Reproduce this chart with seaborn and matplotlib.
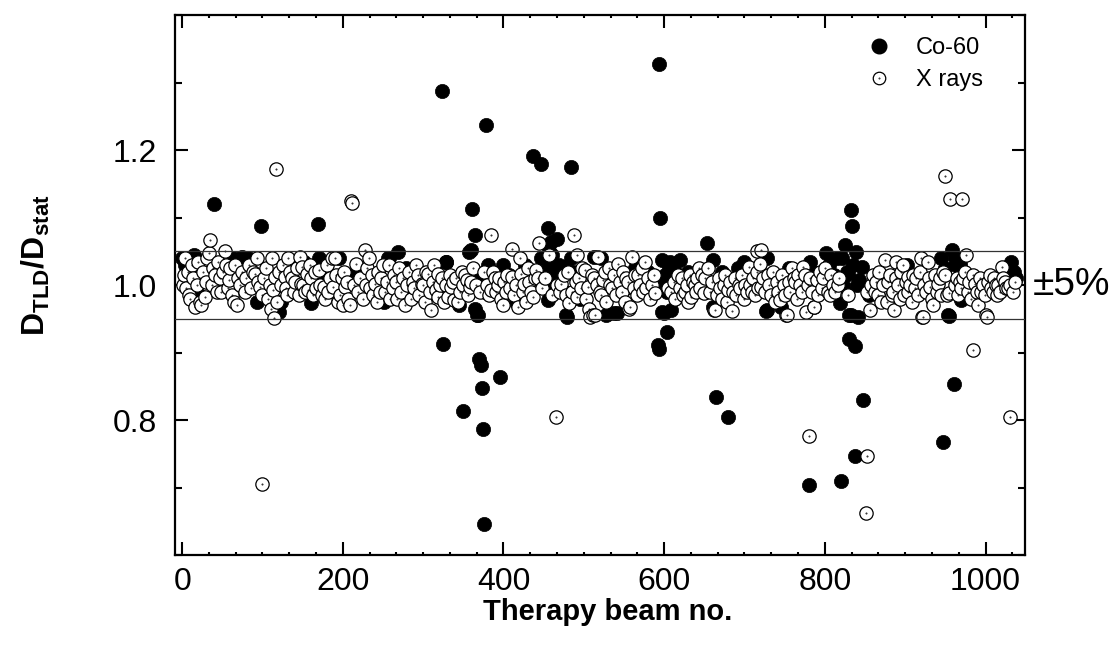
import numpy as np
import matplotlib
matplotlib.use("Agg")
import matplotlib.pyplot as plt
import seaborn as sns
from matplotlib.path import Path
from matplotlib.lines import Line2D
from matplotlib.ticker import MultipleLocator, AutoMinorLocator

# X rays : beam no. / D_TLD/D_stat
xray_beam = [
    1, 2, 3, 5, 7, 9, 10, 12, 14, 16,
    18, 20, 22, 24, 26, 28, 30, 31, 33, 35,
    37, 39, 41, 43, 45, 47, 49, 51, 53, 55,
    57, 58, 60, 62, 64, 66, 68, 70, 72, 75,
    78, 80, 83, 86, 88, 91, 93, 95, 97, 99,
    100, 102, 105, 107, 109, 110, 112, 113, 114, 116,
    117, 118, 120, 123, 126, 128, 129, 131, 132, 134,
    137, 139, 141, 143, 145, 147, 148, 149, 151, 153,
    155, 157, 159, 161, 163, 165, 167, 170, 172, 174,
    176, 178, 180, 182, 184, 186, 188, 190, 192, 194,
    197, 199, 200, 202, 203, 205, 207, 209, 210, 212,
    214, 217, 219, 222, 225, 228, 229, 230, 232, 234,
    236, 238, 240, 242, 244, 246, 248, 250, 253, 255,
    257, 259, 262, 264, 266, 267, 270, 273, 275, 277,
    280, 282, 285, 287, 289, 291, 293, 295, 298, 300,
    302, 304, 306, 308, 310, 312, 314, 316, 318, 319,
    321, 324, 326, 329, 331, 333, 335, 337, 339, 341,
    343, 346, 348, 350, 352, 354, 356, 358, 360, 362,
    366, 371, 376, 380, 382, 384, 385, 387, 389, 391,
    393, 395, 397, 399, 401, 403, 405, 408, 410, 411,
    413, 415, 418, 420, 422, 424, 426, 428, 430, 432,
    434, 437, 439, 441, 443, 444, 448, 452, 457, 461,
    465, 466, 470, 472, 475, 478, 480, 482, 485, 488,
    490, 491, 492, 494, 496, 498, 501, 503, 505, 507,
    508, 510, 511, 513, 514, 516, 518, 520, 522, 524,
    526, 528, 531, 533, 535, 537, 540, 543, 545, 547,
    549, 551, 553, 555, 556, 558, 560, 562, 564, 566,
    568, 570, 572, 574, 576, 578, 580, 582, 585, 587,
    589, 605, 609, 612, 614, 617, 620, 622, 624, 626,
    628, 630, 632, 634, 636, 638, 640, 641, 643, 645,
    647, 649, 651, 655, 657, 660, 662, 663, 666, 668,
    670, 672, 674, 676, 678, 680, 682, 684, 686, 688,
    690, 693, 695, 697, 699, 701, 703, 705, 707, 709,
    711, 713, 715, 716, 717, 719, 720, 721, 723, 725,
    729, 731, 733, 735, 738, 740, 742, 744, 747, 749,
    751, 752, 753, 755, 757, 759, 761, 763, 765, 767,
    769, 771, 773, 775, 777, 779, 780, 782, 784, 786,
    787, 790, 792, 794, 796, 798, 800, 804, 806, 808,
    810, 813, 816, 818, 827, 829, 851, 852, 853, 856,
    858, 860, 862, 864, 866, 868, 870, 872, 875, 877,
    879, 881, 883, 885, 886, 888, 889, 891, 893, 895,
    897, 899, 901, 903, 904, 906, 908, 910, 912, 914,
    916, 918, 920, 921, 922, 924, 926, 928, 930, 931,
    933, 935, 937, 939, 941, 943, 945, 947, 949, 950,
    952, 955, 956, 962, 964, 966, 968, 970, 971, 972,
    974, 976, 978, 980, 982, 984, 985, 987, 989, 991,
    993, 995, 997, 999, 1001, 1002, 1003, 1005, 1007, 1009,
    1011, 1013, 1014, 1016, 1018, 1020, 1022, 1024, 1026, 1028,
    1030, 1031, 1034, 1037,
]
xray_ratio = [
    1.00, 1.015, 1.04, 0.995, 1.02, 0.985, 0.98, 1.03, 1.01, 0.968,
    1.00, 1.035, 0.975, 0.97, 1.02, 0.983, 1.005, 1.04, 1.047, 1.067,
    1.00, 1.025, 1.015, 0.99, 1.035, 1.01, 0.99, 1.02, 1.05, 1.03,
    0.995, 1.007, 1.025, 0.985, 0.975, 1.03, 0.97, 1.01, 1.00, 1.02,
    0.99, 1.01, 1.03, 0.995, 1.02, 1.017, 1.04, 1.005, 0.997, 0.985,
    0.705, 1.01, 1.025, 0.98, 1.00, 0.965, 1.04, 0.993, 0.952, 1.012,
    1.172, 0.975, 1.02, 1.00, 1.03, 1.012, 0.995, 0.985, 1.04, 1.02,
    1.01, 0.99, 1.005, 1.025, 0.985, 1.042, 1.002, 1.027, 1.00, 0.99,
    1.017, 0.993, 1.03, 1.01, 0.985, 1.02, 0.995, 1.022, 1.00, 0.985,
    0.997, 0.98, 1.03, 0.99, 1.01, 1.04, 0.997, 1.04, 1.015, 0.975,
    0.985, 1.01, 0.97, 1.02, 0.997, 1.005, 0.98, 0.97, 1.125, 1.122,
    1.00, 1.032, 0.99, 1.01, 0.98, 1.052, 1.00, 1.025, 1.04, 0.995,
    1.015, 0.985, 1.002, 0.975, 1.02, 0.99, 1.01, 1.03, 0.99, 1.005,
    1.03, 0.98, 0.995, 1.015, 1.005, 0.98, 1.025, 0.99, 1.01, 0.97,
    1.00, 1.02, 0.98, 1.005, 0.995, 1.03, 1.015, 0.985, 1.002, 1.00,
    0.975, 1.02, 1.017, 0.99, 0.963, 1.005, 1.03, 0.993, 1.017, 0.983,
    1.00, 1.01, 0.975, 1.00, 0.983, 1.015, 0.997, 1.005, 0.978, 1.01,
    0.975, 0.99, 1.02, 1.00, 1.015, 1.007, 0.985, 0.997, 1.005, 1.025,
    1.00, 0.99, 1.02, 1.00, 0.985, 1.074, 0.993, 1.02, 1.01, 0.99,
    1.00, 1.01, 0.98, 0.97, 1.005, 0.99, 1.015, 0.995, 1.012, 1.053,
    0.985, 1.00, 0.968, 1.04, 1.017, 0.99, 1.002, 0.975, 1.025, 1.005,
    0.99, 0.983, 1.01, 1.022, 1.01, 1.062, 0.995, 1.01, 1.044, 0.985,
    0.804, 1.00, 0.99, 1.002, 1.015, 0.985, 1.02, 0.973, 0.99, 1.074,
    1.005, 1.044, 0.983, 1.01, 0.995, 1.025, 1.022, 0.98, 0.997, 0.965,
    0.953, 1.015, 0.955, 1.01, 0.955, 1.00, 1.042, 0.99, 0.985, 1.007,
    1.02, 0.975, 1.025, 1.00, 0.995, 1.015, 0.985, 1.032, 1.005, 0.99,
    1.02, 0.975, 1.01, 1.005, 0.964, 0.968, 1.042, 0.995, 1.015, 0.985,
    1.015, 1.00, 1.025, 0.99, 1.035, 0.995, 1.01, 0.98, 1.00, 1.015,
    0.988, 0.995, 0.99, 1.005, 0.98, 1.015, 0.995, 1.01, 0.985, 0.99,
    1.00, 0.975, 1.015, 0.983, 1.005, 1.00, 0.99, 1.01, 1.025, 0.995,
    1.015, 0.988, 1.01, 1.025, 0.99, 1.005, 0.963, 0.963, 0.985, 1.01,
    0.995, 0.98, 1.00, 1.015, 0.975, 0.993, 1.005, 0.961, 0.99, 1.01,
    0.985, 1.00, 0.995, 1.015, 0.98, 1.00, 0.99, 1.027, 1.00, 0.99,
    1.01, 0.985, 1.02, 1.051, 0.995, 1.032, 1.052, 0.997, 1.01, 0.99,
    1.015, 1.00, 0.985, 1.02, 0.975, 1.005, 0.99, 0.978, 1.015, 1.00,
    0.985, 0.956, 0.955, 1.005, 0.99, 1.025, 1.01, 1.005, 0.98, 1.015,
    1.00, 0.99, 1.027, 1.015, 0.96, 1.00, 0.777, 1.01, 0.99, 0.967,
    0.968, 1.007, 0.985, 1.02, 0.995, 1.01, 1.025, 0.99, 0.985, 1.015,
    1.00, 0.99, 1.00, 1.01, 0.985, 0.985, 0.662, 0.746, 0.99, 0.963,
    1.00, 1.015, 0.99, 1.005, 0.985, 1.02, 0.975, 1.00, 1.037, 0.975,
    1.005, 1.015, 0.985, 0.99, 0.963, 1.01, 1.035, 1.00, 0.98, 1.02,
    1.03, 0.985, 1.005, 0.99, 1.012, 1.00, 0.975, 1.015, 0.995, 1.01,
    0.985, 1.02, 1.04, 0.953, 0.953, 1.00, 0.99, 1.035, 1.01, 0.997,
    0.98, 0.97, 1.015, 0.99, 1.002, 1.01, 0.985, 1.02, 1.162, 1.015,
    0.985, 0.988, 1.127, 1.00, 1.01, 0.985, 1.005, 0.995, 1.127, 1.01,
    1.02, 1.044, 0.99, 1.005, 0.98, 1.015, 0.904, 1.002, 0.99, 0.97,
    1.01, 0.99, 1.00, 0.985, 0.955, 0.953, 1.005, 1.015, 0.995, 0.99,
    1.01, 1.00, 0.985, 1.00, 0.99, 1.027, 1.01, 1.005, 0.995, 0.995,
    0.805, 1.00, 0.99, 1.005,
]

# Co-60
co60_beam = [
    0, 4, 8, 11, 15, 19, 21, 40, 44, 63,
    74, 77, 82, 85, 93, 98, 104, 121, 123, 135,
    152, 161, 169, 170, 175, 195, 201, 216, 251, 256,
    257, 269, 272, 279, 286, 323, 325, 328, 329, 338,
    345, 349, 357, 360, 361, 364, 365, 367, 368, 369,
    370, 372, 373, 374, 376, 377, 378, 379, 381, 383,
    396, 400, 407, 416, 427, 437, 447, 447, 450, 453,
    455, 455, 457, 458, 459, 461, 463, 464, 466, 469,
    470, 472, 474, 476, 478, 479, 484, 484, 486, 495,
    513, 522, 527, 531, 538, 541, 553, 564, 580, 590,
    592, 593, 594, 595, 597, 597, 599, 600, 601, 603,
    604, 606, 607, 608, 610, 613, 620, 630, 653, 661,
    661, 665, 672, 680, 692, 699, 727, 728, 728, 746,
    755, 780, 781, 785, 795, 802, 805, 811, 815, 819,
    820, 821, 823, 825, 825, 827, 829, 830, 830, 832,
    833, 834, 835, 837, 838, 839, 840, 841, 843, 846,
    848, 855, 880, 902, 945, 947, 950, 953, 954, 958,
    962, 961, 963, 968, 970, 1032, 1034, 1036, 1038,
]
co60_ratio = [
    1.04, 1.03, 1.00, 0.99, 1.045, 1.01, 0.985, 1.12, 1.00, 1.04,
    1.042, 1.04, 1.04, 1.00, 0.975, 1.088, 1.015, 0.96, 0.975, 1.03,
    1.035, 0.973, 1.09, 1.04, 1.01, 1.04, 1.01, 1.02, 0.975, 1.04,
    1.04, 1.049, 1.00, 1.025, 0.99, 1.288, 0.912, 1.034, 1.035, 1.00,
    0.97, 0.814, 1.049, 1.052, 1.113, 1.074, 0.965, 0.956, 0.955, 0.891,
    1.007, 0.881, 0.847, 0.786, 0.646, 0.99, 1.237, 1.02, 1.03, 1.01,
    0.864, 1.03, 1.015, 0.975, 1.03, 1.192, 1.179, 1.04, 1.02, 1.00,
    1.084, 0.978, 1.05, 1.03, 1.064, 1.045, 1.01, 1.025, 1.068, 1.03,
    1.007, 0.995, 1.027, 0.99, 0.955, 0.953, 1.175, 1.04, 1.02, 0.98,
    1.042, 1.04, 0.956, 0.958, 0.959, 0.958, 0.995, 1.025, 1.02, 1.00,
    0.911, 0.905, 1.328, 1.100, 1.037, 0.96, 1.01, 0.958, 1.015, 0.931,
    0.99, 1.025, 1.035, 0.963, 1.00, 1.02, 1.037, 1.02, 1.062, 1.037,
    0.967, 0.834, 1.02, 0.804, 1.025, 1.035, 0.961, 1.04, 0.963, 0.968,
    1.025, 0.703, 1.035, 1.02, 1.01, 1.047, 1.03, 1.015, 1.04, 0.973,
    0.709, 1.04, 1.00, 1.060, 0.99, 1.02, 1.017, 0.920, 0.956, 1.111,
    0.955, 1.088, 1.03, 0.747, 0.910, 1.049, 1.00, 0.953, 1.007, 1.027,
    0.829, 0.985, 1.00, 1.03, 1.04, 0.767, 1.025, 0.955, 0.954, 1.052,
    1.04, 0.853, 1.03, 1.032, 0.978, 1.035, 1.02, 1.02, 1.01,
]

limits = [0.95, 1.05]

sns.set_style("ticks")
plt.rcParams["font.family"] = ["Liberation Sans", "DejaVu Sans"]
plt.rcParams["mathtext.fontset"] = "custom"
plt.rcParams["mathtext.rm"] = "Liberation Sans"
plt.rcParams["mathtext.bf"] = "Liberation Sans:bold"
plt.rcParams["mathtext.it"] = "Liberation Sans:italic"
for k in ["text.color", "axes.labelcolor", "xtick.color", "ytick.color", "axes.edgecolor"]:
    plt.rcParams[k] = "black"

# open circle with a small dot in the middle (Origin style)
open_dot = Path.make_compound_path(Path.unit_circle(), Path.circle((0, 0), 0.05))

fig = plt.figure(figsize=(11.14, 6.55), dpi=100)
ax = fig.add_axes([0.157, 0.1527, 0.763, 0.824])

sns.scatterplot(x=co60_beam, y=co60_ratio, marker="o", s=105, color="black",
                edgecolor="black", linewidth=0.5, ax=ax, zorder=2, legend=False)
sns.scatterplot(x=xray_beam, y=xray_ratio, marker=open_dot, s=92, facecolor="white",
                edgecolor="black", linewidth=0.9, ax=ax, zorder=2.5, legend=False)

for lim in limits:
    ax.axhline(lim, color="#333333", lw=0.9, zorder=3)

ax.set_xlim(-9, 1049)
ax.set_ylim(0.6, 1.4)
ax.xaxis.set_major_locator(MultipleLocator(200))
ax.xaxis.set_minor_locator(AutoMinorLocator(6))
ax.yaxis.set_minor_locator(MultipleLocator(0.1))
ax.set_yticks([0.8, 1.0, 1.2])

ax.tick_params(which="both", direction="in", top=True, right=True, width=1.5, labelsize=23)
ax.tick_params(which="major", length=9.5)
ax.tick_params(axis="y", which="minor", length=5)
ax.tick_params(axis="x", which="minor", length=2.5)
ax.tick_params(axis="x", pad=9)
ax.tick_params(axis="y", pad=13)
for sp in ax.spines.values():
    sp.set_linewidth(1.6)

ax.set_xlabel("Therapy beam no.", fontsize=21, fontweight="bold")
ax.set_ylabel(r"$\mathbf{D_{TLD}/D_{stat}}$", fontsize=23)
ax.xaxis.set_label_coords(0.509, -0.08)
ax.yaxis.set_label_coords(-0.145, 0.537)

ax.text(1.009, 1.0, "±5%", transform=ax.get_yaxis_transform(), fontsize=28,
        ha="left", va="center", clip_on=False)

h_co = Line2D([], [], ls="", marker="o", ms=10.5, mfc="black", mec="black")
h_x = Line2D([], [], ls="", marker=open_dot, ms=9, mfc="white", mec="black", mew=0.9)
ax.legend([h_co, h_x], ["Co-60", "X rays"], loc="upper right", bbox_to_anchor=(0.97, 0.99),
          frameon=False, fontsize=17, handlelength=1.0, handletextpad=1.05, labelspacing=0.42,
          borderpad=0.2)

fig.savefig("out.png", dpi=100)
